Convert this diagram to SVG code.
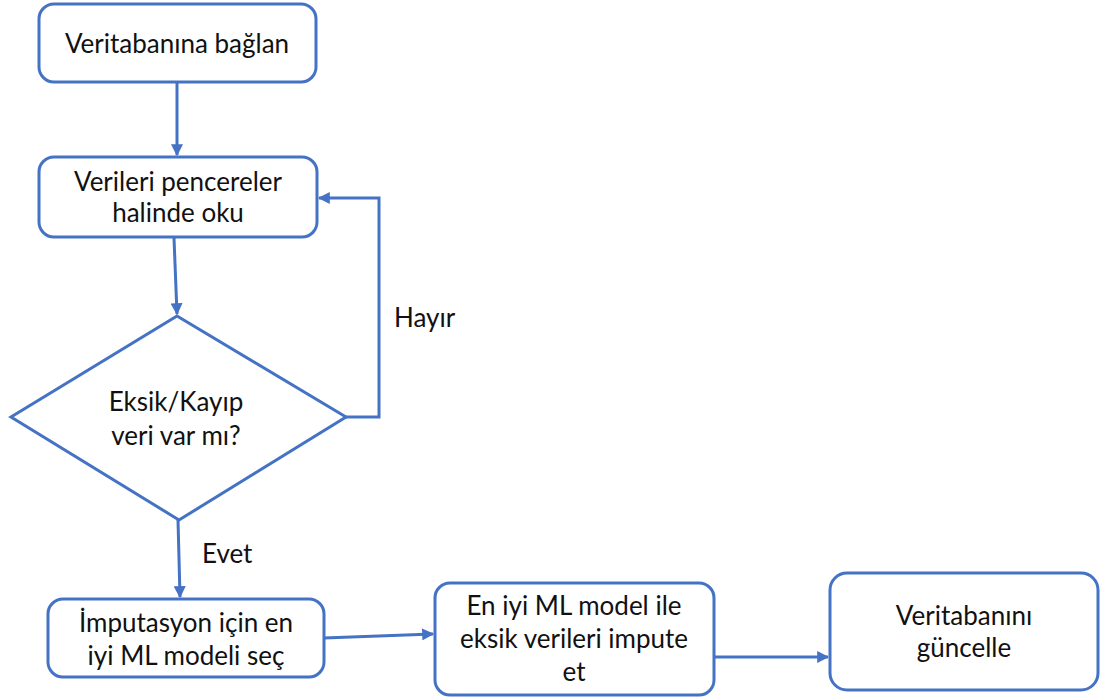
<svg xmlns="http://www.w3.org/2000/svg" width="1107" height="698" viewBox="0 0 1107 698">
  <style>
    .box { fill: #ffffff; stroke: #4472C4; stroke-width: 3; }
    .edge { fill: none; stroke: #4472C4; stroke-width: 3; }
    .lbl { font-family: Lato, "Liberation Sans", sans-serif; font-size: 26px; fill: #111111; text-anchor: middle; }
    .tag { font-family: Lato, "Liberation Sans", sans-serif; font-size: 26px; fill: #111111; }
  </style>
  <defs>
    <marker id="arrow" viewBox="0 0 10 10" refX="9" refY="5" markerWidth="4" markerHeight="4" orient="auto" markerUnits="strokeWidth">
      <path d="M0,0 L10,5 L0,10 Z" fill="#4472C4"/>
    </marker>
  </defs>
  <rect width="1107" height="698" fill="#ffffff"/>

  <g id="connectors">
    <line class="edge" x1="177" y1="83" x2="177" y2="155" marker-end="url(#arrow)"/>
    <line class="edge" x1="174" y1="238" x2="177" y2="314" marker-end="url(#arrow)"/>
    <polyline class="edge" points="346,417 379,417 379,198 319,198" marker-end="url(#arrow)"/>
    <line class="edge" x1="178" y1="520" x2="180" y2="597" marker-end="url(#arrow)"/>
    <line class="edge" x1="324" y1="638" x2="433" y2="634" marker-end="url(#arrow)"/>
    <line class="edge" x1="714" y1="657" x2="828" y2="657" marker-end="url(#arrow)"/>
    <text class="tag" x="394" y="327">Hayır</text>
    <text class="tag" x="202" y="563">Evet</text>
  </g>

  <g id="connect">
    <rect class="box" x="39" y="4" width="277" height="78" rx="15"/>
    <text class="lbl" x="177" y="53">Veritabanına bağlan</text>
  </g>

  <g id="read">
    <rect class="box" x="39" y="157" width="278" height="80" rx="15"/>
    <text class="lbl" x="178" y="191">Verileri pencereler</text>
    <text class="lbl" x="178" y="222">halinde oku</text>
  </g>

  <g id="check">
    <polygon class="box" points="177,316 346,417 179,520 11,417"/>
    <text class="lbl" x="176" y="411">Eksik/Kayıp</text>
    <text class="lbl" x="176" y="445">veri var mı?</text>
  </g>

  <g id="select">
    <rect class="box" x="48" y="599" width="276" height="78" rx="15"/>
    <text class="lbl" x="186" y="632">İmputasyon için en</text>
    <text class="lbl" x="186" y="665">iyi ML modeli seç</text>
  </g>

  <g id="impute">
    <rect class="box" x="435" y="583" width="279" height="112" rx="15"/>
    <text class="lbl" x="574" y="615">En iyi ML model ile</text>
    <text class="lbl" x="574" y="648">eksik verileri impute</text>
    <text class="lbl" x="574" y="681">et</text>
  </g>

  <g id="update">
    <rect class="box" x="830" y="573" width="268" height="117" rx="17"/>
    <text class="lbl" x="964" y="625">Veritabanını</text>
    <text class="lbl" x="964" y="657">güncelle</text>
  </g>
</svg>
